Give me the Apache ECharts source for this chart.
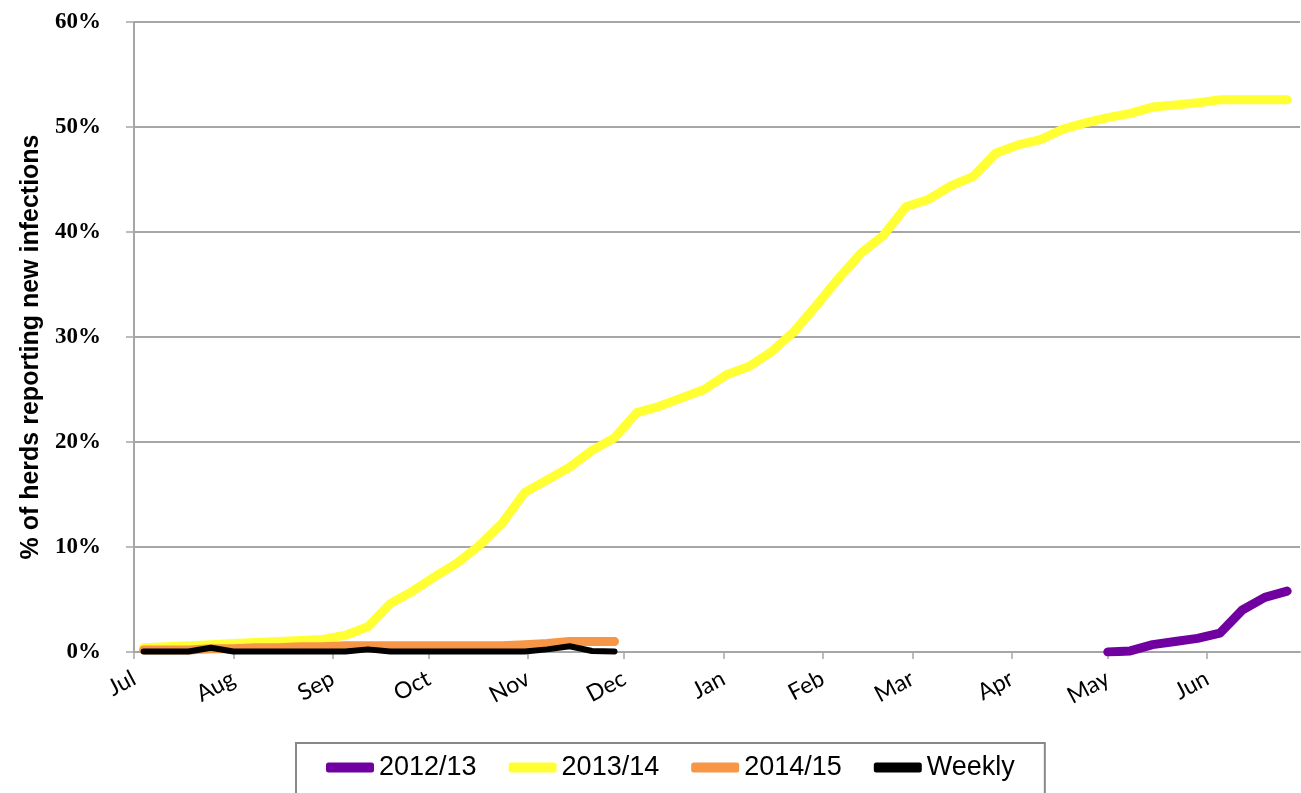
<!DOCTYPE html>
<html>
<head>
<meta charset="utf-8">
<script src="https://cdn.jsdelivr.net/npm/echarts@6/dist/echarts.min.js"></script>
<style>
html,body{margin:0;padding:0;background:#fff;}
#chart{width:1301px;height:793px;}
</style>
</head>
<body>
<div id="chart"></div>
<script>
// Month tick labels and their day offsets from 1 July (season runs Jul -> Jun)
const monthLabels = ['Jul','Aug','Sep','Oct','Nov','Dec','Jan','Feb','Mar','Apr','May','Jun'];
const monthStartDay = [0,31,62,92,123,153,184,215,243,274,304,335];

// Weekly reporting days (day offset from 1 July)
const weekDay = [3,10,17,24,31,38,45,52,59,66,73,80,87,94,101,108,115,122,129,136,143,150,
  157,164,171,178,185,192,199,206,213,220,227,234,241,248,255,262,269,276,283,290,
  297,304,311,318,325,332,339,346,353,360];

// % of herds reporting new infections (cumulative)
const s2013_14 = [0.4,0.5,0.6,0.7,0.8,0.9,1.0,1.1,1.2,1.6,2.4,4.6,5.8,7.2,8.5,10.2,12.3,15.2,16.4,17.6,19.2,20.4,
  22.8,23.4,24.2,25.0,26.4,27.2,28.6,30.5,33.0,35.6,38.0,39.7,42.4,43.1,44.4,45.3,47.5,48.3,48.8,49.8,
  50.4,50.9,51.3,51.9,52.1,52.3,52.6,52.6,52.6,52.6];
// 2012/13 only plotted from week index 43 (start of May)
const s2012_13_firstWeek = 43;
const s2012_13 = [0.0,0.1,0.7,1.0,1.3,1.8,4.0,5.2,5.8];
// 2014/15 season so far (weeks 0..21)
const s2014_15 = [0.2,0.2,0.2,0.3,0.3,0.4,0.4,0.5,0.5,0.6,0.6,0.6,0.6,0.6,0.6,0.6,0.6,0.7,0.8,1.0,1.0,1.0];
// Weekly new infections (weeks 0..21)
const weekly = [0.05,0.05,0.05,0.4,0.05,0.05,0.05,0.05,0.05,0.05,0.25,0.05,0.05,0.05,0.05,0.05,0.05,0.05,0.25,0.55,0.1,0.05];

const yTicks = [0,10,20,30,40,50,60];

function pairs(values, firstWeek){
  return values.map((v,i)=>[weekDay[firstWeek+i], v]);
}

const chart = echarts.init(document.getElementById('chart'), null, {renderer:'canvas'});
const lineBase = {type:'line', showSymbol:false, symbol:'none', smooth:false, animation:false};

chart.setOption({
  backgroundColor:'#fff',
  animation:false,
  grid:{left:134, right:1, top:22, bottom:141},
  xAxis:{
    type:'value', min:0, max:364,
    splitLine:{show:false},
    axisLine:{show:true, lineStyle:{color:'#a6a6a6', width:2}},
    axisTick:{show:true, customValues:monthStartDay, length:7, lineStyle:{color:'#a6a6a6', width:1.5}},
    axisLabel:{
      customValues:monthStartDay,
      rotate:28, margin:25,
      fontFamily:'Lato, "Open Sans", sans-serif', fontSize:23, color:'#000',
      formatter:function(v){ const i = monthStartDay.indexOf(Math.round(v)); return i>=0 ? monthLabels[i] : ''; }
    }
  },
  yAxis:{
    type:'value', min:yTicks[0], max:yTicks[yTicks.length-1], interval:10,
    name:'% of herds reporting new infections',
    nameLocation:'middle', nameGap:90, nameRotate:90,
    nameTextStyle:{fontFamily:'"Liberation Sans", Arial, sans-serif', fontWeight:'bold', fontSize:25, color:'#000', padding:[0,20,0,0]},
    axisLine:{show:true, lineStyle:{color:'#a6a6a6', width:2}},
    axisTick:{show:true, length:8, lineStyle:{color:'#a6a6a6', width:1.5}},
    splitLine:{show:true, lineStyle:{color:'#a6a6a6', width:2}},
    axisLabel:{
      margin:33, fontFamily:'"Liberation Serif", "DejaVu Serif", serif', fontWeight:'bold', fontSize:23, color:'#000',
      formatter:'{value}%'
    }
  },
  legend:{
    left:296, top:743,
    padding:[11, 30, 13, 30],
    borderColor:'#888', borderWidth:2,
    itemWidth:48, itemHeight:10, itemGap:32,
    icon:'roundRect',
    textStyle:{fontFamily:'"Liberation Sans", sans-serif', fontSize:27, color:'#000'},
    data:['2012/13','2013/14','2014/15','Weekly']
  },
  series:[
    Object.assign({}, lineBase, {name:'2012/13', data:pairs(s2012_13, s2012_13_firstWeek), color:'#7000A0',
      lineStyle:{color:'#7000A0', width:9, cap:'round', join:'round'}, z:2}),
    Object.assign({}, lineBase, {name:'2013/14', data:pairs(s2013_14, 0), color:'#FFFF33',
      lineStyle:{color:'#FFFF33', width:9, cap:'round', join:'round'}, z:3}),
    Object.assign({}, lineBase, {name:'2014/15', data:pairs(s2014_15, 0), color:'#F79646',
      lineStyle:{color:'#F79646', width:9, cap:'round', join:'round'}, z:4}),
    Object.assign({}, lineBase, {name:'Weekly', data:pairs(weekly, 0), color:'#000',
      lineStyle:{color:'#000', width:6, cap:'round', join:'round'}, z:5})
  ]
});
</script>
</body>
</html>
